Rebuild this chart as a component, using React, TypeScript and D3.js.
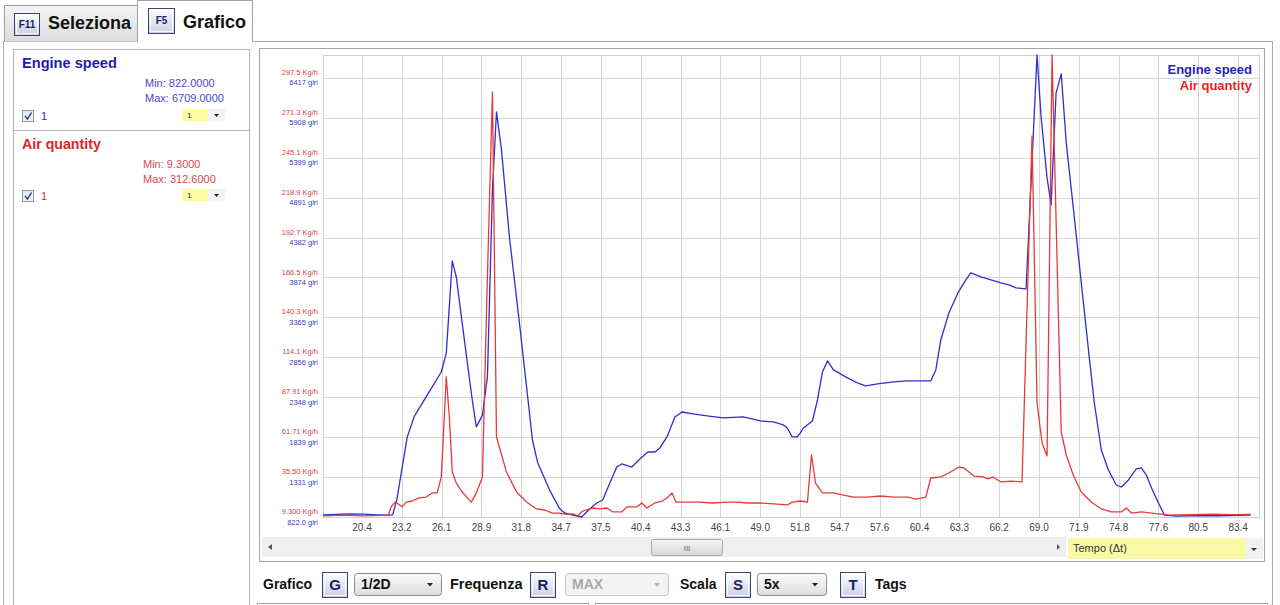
import React from 'react';
import * as d3 from 'd3';

// ---------- DATA ----------
const xTickLabels = ["20.4","23.2","26.1","28.9","31.8","34.7","37.5","40.4","43.3","46.1","49.0","51.8","54.7","57.6","60.4","63.3","66.2","69.0","71.9","74.8","77.6","80.5","83.4"];
const engineTickLabels = ["822.0 giri","1331 giri","1839 giri","2348 giri","2856 giri","3365 giri","3874 giri","4382 giri","4891 giri","5399 giri","5908 giri","6417 giri"];
const airTickLabels = ["9.300 Kg/h","35.50 Kg/h","61.71 Kg/h","87.91 Kg/h","114.1 Kg/h","140.3 Kg/h","166.5 Kg/h","192.7 Kg/h","218.9 Kg/h","245.1 Kg/h","271.3 Kg/h","297.5 Kg/h"];

const engineTime = [17.6,18.5,19.5,20.5,21.5,22.4,22.6,22.9,23.65,24.15,25.0,26.1,26.46,26.89,27.18,27.76,28.33,28.62,29.06,29.42,29.78,30.07,30.43,31.0,31.72,32.66,33.02,33.89,34.6,34.97,35.55,36.2,36.77,37.28,37.71,38.22,38.72,39.08,39.8,40.38,40.96,41.46,41.82,42.33,42.9,43.41,44.2,45.21,46.37,47.81,49.04,49.97,50.7,50.98,51.34,51.7,51.92,52.14,52.79,53.15,53.51,53.87,54.3,55.31,56.03,56.61,57.47,58.63,59.64,60.58,61.3,61.66,62.02,62.6,63.25,63.82,64.18,64.9,65.63,66.35,66.92,67.43,68.15,68.94,69.23,69.66,69.95,70.31,70.68,71.04,71.54,72.12,72.7,73.06,73.56,74.07,74.64,75.0,75.51,76.08,76.44,76.8,77.17,77.67,78.1,79.0,80.5,82.0,83.5,84.3];
const engineSpeed = [850,855,860,858,850,845,850,1040,1840,2100,2350,2670,2910,4085,3880,3080,2310,1970,2120,2610,4990,5985,5500,4390,3295,1800,1520,1165,930,873,847,822,924,1000,1039,1255,1459,1498,1459,1561,1650,1650,1702,1842,2097,2160,2135,2110,2084,2097,2046,2033,1995,1956,1842,1842,1893,1956,2046,2313,2670,2810,2696,2594,2530,2492,2517,2543,2556,2556,2556,2696,3078,3422,3677,3843,3932,3881,3843,3805,3779,3741,3728,6709,5921,5143,4799,6227,6469,5590,4774,3805,2849,2275,1676,1421,1230,1204,1294,1434,1447,1357,1192,1000,847,835,840,838,842,845];

const airTime = [17.6,19.0,20.5,22.3,22.49,22.78,22.92,23.29,23.57,24.01,24.51,25.02,25.45,25.81,26.1,26.46,26.68,26.89,27.18,27.61,28.26,28.62,29.06,29.34,29.78,30.07,30.79,31.51,32.23,32.95,33.53,34.1,34.61,35.11,35.55,35.91,36.27,36.99,37.49,38.0,38.43,39.08,39.44,40.16,40.52,40.88,41.46,41.97,42.33,42.69,42.98,43.77,44.71,45.57,46.66,47.38,48.1,49.04,50.27,50.98,51.34,51.92,52.43,52.72,53.01,53.51,54.3,55.02,55.74,56.75,57.69,58.63,59.64,60.22,60.94,61.3,62.02,62.6,63.32,63.69,64.41,65.06,65.41,65.77,66.35,67.07,67.86,68.58,68.94,69.3,69.66,70.02,70.68,71.04,71.54,72.12,72.84,73.56,74.28,75.0,75.36,75.72,76.44,77.17,78.5,80.0,81.5,83.0,84.3];
const airQuantity = [10.0,10.5,10.0,10.5,15.9,19.1,18.5,15.9,19.1,19.8,21.8,22.4,25.1,25.1,35.6,101.2,75.0,38.8,31.6,25.7,19.1,25.1,35.6,140.6,288.4,61.8,38.8,25.7,19.1,14.6,13.9,11.9,11.9,11.0,11.3,10.0,13.2,15.2,14.6,15.2,12.6,12.6,15.9,15.9,18.5,15.2,18.5,19.8,21.8,25.1,19.1,19.1,19.1,18.5,19.1,19.1,18.5,18.5,17.8,17.2,19.1,19.8,19.1,50.0,31.6,25.1,25.1,23.7,22.4,22.4,23.1,22.4,22.4,21.1,22.4,34.9,35.6,38.2,42.1,41.5,36.2,35.6,34.3,35.6,32.3,32.9,32.3,259.5,84.2,57.9,49.4,312.6,65.1,50.0,36.9,25.7,19.1,14.6,12.6,12.6,15.2,11.9,12.6,11.9,10.5,10.8,11.2,10.8,11.0];

const engineMin = 822, engineMax = 6709;
const airMin = 9.3, airMax = 312.6;
const xTickStart = 20.4, xTickStep = 2.8636;

// ---------- LAYOUT ----------
const X0 = 323, X1 = 1259, Y0 = 55, Y1 = 517;
const FONT = "'Liberation Sans', Arial, sans-serif";
const BLUE = '#2f2fcc';
const RED = '#e63a3a';

const x = d3.scaleLinear().domain([17.595, 84.9]).range([X0, X1]);
const yE = d3.scaleLinear().domain([engineMin, engineMax]).range([Y1, Y0]);
const yA = d3.scaleLinear().domain([airMin, airMax]).range([Y1, Y0]);

const xTicks = xTickLabels.map((_, i) => xTickStart + i * xTickStep);
const eStep = (6417 - engineMin) / 11;
const aStep = (297.5 - airMin) / 11;
const eTicks = engineTickLabels.map((_, i) => engineMin + i * eStep);
const aTicks = airTickLabels.map((_, i) => airMin + i * aStep);

const engineLine = d3.line<number>().x((_, i) => x(engineTime[i])).y(d => yE(d))(engineSpeed) || '';
const airLine = d3.line<number>().x((_, i) => x(airTime[i])).y(d => yA(d))(airQuantity) || '';

function KeyBox({ x0, y0, w, h, label, fs = 15 }: { x0: number; y0: number; w: number; h: number; label: string; fs?: number }) {
  return (
    <g>
      <rect x={x0 + 0.5} y={y0 + 0.5} width={w} height={h} fill="url(#keyGrad)" stroke="#3c4470" strokeWidth={1} />
      <rect x={x0 + 2.5} y={y0 + 2.5} width={w - 4} height={h - 4} fill="none" stroke="#ffffff" strokeWidth={1} opacity={0.8} />
      <text x={x0 + w / 2 + 0.5} y={y0 + h / 2 + fs * 0.36} textAnchor="middle" fontSize={fs} fontWeight="bold" fill="#1c2260" fontFamily={FONT}>{label}</text>
    </g>
  );
}

function Dropdown({ x0, y0, w, h, label, disabled = false }: { x0: number; y0: number; w: number; h: number; label: string; disabled?: boolean }) {
  return (
    <g>
      <rect x={x0 + 0.5} y={y0 + 0.5} width={w} height={h} rx={3} fill={disabled ? '#f3f3f3' : 'url(#ddGrad)'} stroke={disabled ? '#c4c4c4' : '#8c8c8c'} />
      <text x={x0 + 7} y={y0 + h / 2 + 5} fontSize={14} fontWeight="bold" fill={disabled ? '#a8a8a8' : '#111'} fontFamily={FONT}>{label}</text>
      <path d={`M${x0 + w - 14},${y0 + h / 2 - 1} l6,0 l-3,3.5 z`} fill={disabled ? '#b0b0b0' : '#222'} />
    </g>
  );
}

function Checkbox({ x0, y0 }: { x0: number; y0: number }) {
  return (
    <g>
      <rect x={x0 + 0.5} y={y0 + 0.5} width={11} height={11} fill="url(#cbGrad)" stroke="#8a98b0" />
      <path d={`M${x0 + 3},${y0 + 6} l2.5,3 l4,-6.5`} fill="none" stroke="#2a3a80" strokeWidth={1.4} />
    </g>
  );
}

function MiniSelect({ x0, y0 }: { x0: number; y0: number }) {
  return (
    <g>
      <rect x={x0} y={y0} width={26} height={12} fill="#fbfba2" />
      <text x={x0 + 5} y={y0 + 9} fontSize={8} fill="#333" fontFamily={FONT}>1</text>
      <rect x={x0 + 26} y={y0} width={17} height={12} fill="#f2f2f2" />
      <path d={`M${x0 + 32},${y0 + 5} l5,0 l-2.5,3 z`} fill="#222" />
    </g>
  );
}

export default function App() {
  return (
    <div style={{ position: 'absolute', left: 0, top: 0, width: 1280, height: 605, overflow: 'hidden', background: '#fff' }}>
      <svg width={1280} height={605} style={{ display: 'block' }} fontFamily={FONT}>
        <defs>
          <linearGradient id="keyGrad" x1="0" y1="0" x2="0" y2="1">
            <stop offset="0" stopColor="#ffffff" />
            <stop offset="1" stopColor="#c9cde6" />
          </linearGradient>
          <linearGradient id="tabGrad" x1="0" y1="0" x2="0" y2="1">
            <stop offset="0" stopColor="#f4f4f4" />
            <stop offset="1" stopColor="#dcdcdc" />
          </linearGradient>
          <linearGradient id="ddGrad" x1="0" y1="0" x2="0" y2="1">
            <stop offset="0" stopColor="#fafafa" />
            <stop offset="1" stopColor="#dedede" />
          </linearGradient>
          <linearGradient id="cbGrad" x1="0" y1="0" x2="1" y2="1">
            <stop offset="0" stopColor="#dfe6f2" />
            <stop offset="1" stopColor="#f6f8fb" />
          </linearGradient>
          <linearGradient id="thumbGrad" x1="0" y1="0" x2="0" y2="1">
            <stop offset="0" stopColor="#f6f6f6" />
            <stop offset="1" stopColor="#d6d6d6" />
          </linearGradient>
          <clipPath id="plotClip">
            <rect x={X0} y={Y0 - 2} width={X1 - X0} height={Y1 - Y0 + 4} />
          </clipPath>
        </defs>

        {/* outer content frame */}
        <rect x={3.5} y={41.5} width={1269} height={600} fill="#fff" stroke="#a9a9a9" />

        {/* tabs */}
        <path d="M4.5,41.5 L4.5,5.5 L137.5,5.5 L137.5,41.5" fill="url(#tabGrad)" stroke="#a0a0a0" />
        <path d="M137.5,42 L137.5,0.5 L252.5,0.5 L252.5,42" fill="#fff" stroke="#a0a0a0" />
        <line x1={138} y1={41.5} x2={252} y2={41.5} stroke="#fff" strokeWidth={1.5} />
        <KeyBox x0={14} y0={13} w={25} h={22} label="F11" fs={10} />
        <text x={48} y={29} fontSize={18} fontWeight="bold" fill="#111">Seleziona</text>
        <KeyBox x0={148} y0={8} w={26} h={25} label="F5" fs={10} />
        <text x={183} y={28} fontSize={18} fontWeight="bold" fill="#111">Grafico</text>

        {/* left panel */}
        <rect x={13.5} y={49.5} width={236} height={600} fill="#fff" stroke="#b4b4b4" />
        <line x1={14} y1={130.5} x2={249} y2={130.5} stroke="#b4b4b4" />
        <text x={22} y={68} fontSize={14.6} fontWeight="bold" fill="#1d1daa">Engine speed</text>
        <text x={145} y={87} fontSize={11} fill="#4a4ac6">Min: 822.0000</text>
        <text x={145} y={102} fontSize={11} fill="#4a4ac6">Max: 6709.0000</text>
        <Checkbox x0={22} y0={110} />
        <text x={41} y={120} fontSize={11} fill="#2a2aa8">1</text>
        <MiniSelect x0={182} y0={109} />

        <text x={22} y={149} fontSize={14.2} fontWeight="bold" fill="#e02424">Air quantity</text>
        <text x={143} y={168} fontSize={11} fill="#e04848">Min: 9.3000</text>
        <text x={143} y={183} fontSize={11} fill="#e04848">Max: 312.6000</text>
        <Checkbox x0={22} y0={190} />
        <text x={41} y={200} fontSize={11} fill="#c83030">1</text>
        <MiniSelect x0={182} y0={189} />

        {/* chart frame */}
        <rect x={259.5} y={48.5} width={1005} height={513} fill="#fff" stroke="#a4a4a4" />

        {/* grid */}
        <g>
          {xTicks.map((t, i) => (
            <line key={'vx' + i} x1={Math.round(x(t)) + 0.5} x2={Math.round(x(t)) + 0.5} y1={Y0} y2={Y1} stroke="#d7d7d7" />
          ))}
          {eTicks.map((t, i) => (
            <line key={'hy' + i} x1={X0} x2={X1} y1={Math.round(yE(t)) + 0.5} y2={Math.round(yE(t)) + 0.5} stroke="#d7d7d7" />
          ))}
          <rect x={X0 + 0.5} y={Y0 + 0.5} width={X1 - X0} height={Y1 - Y0} fill="none" stroke="#cfcfcf" />
        </g>

        {/* y labels */}
        <g fontSize={7.5}>
          {aTicks.map((t, i) => (
            <text key={'al' + i} x={318} y={yA(t) - 3} textAnchor="end" fill="#d64040">{airTickLabels[i]}</text>
          ))}
          {eTicks.map((t, i) => (
            <text key={'el' + i} x={318} y={yE(t) + 7.5} textAnchor="end" fill="#3a3ac0">{engineTickLabels[i]}</text>
          ))}
        </g>

        {/* x labels */}
        <g fontSize={10} fill="#444">
          {xTicks.map((t, i) => (
            <text key={'xl' + i} x={x(t)} y={531} textAnchor="middle">{xTickLabels[i]}</text>
          ))}
        </g>

        {/* series */}
        <g clipPath="url(#plotClip)">
          <path d={engineLine} fill="none" stroke={BLUE} strokeWidth={1.3} strokeLinejoin="round" />
          <path d={airLine} fill="none" stroke={RED} strokeWidth={1.3} strokeLinejoin="round" />
        </g>

        {/* legend */}
        <text x={1252} y={74} textAnchor="end" fontSize={13} fontWeight="bold" fill="#2424b4">Engine speed</text>
        <text x={1252} y={90} textAnchor="end" fontSize={13} fontWeight="bold" fill="#e02828">Air quantity</text>

        {/* scrollbar row */}
        <rect x={262} y={537} width={804} height={20} fill="#efefef" />
        <path d="M268,547 l4,-3 l0,6 z" fill="#555" />
        <rect x={651.5} y={539.5} width={71} height={16} rx={2} fill="url(#thumbGrad)" stroke="#a9a9a9" />
        <text x={687} y={551} textAnchor="middle" fontSize={8} fill="#666">III</text>
        <path d="M1060,547 l-3,-3 l0,6 z" fill="#555" />
        <rect x={1068} y={538} width={178} height={21} fill="#fafaa6" />
        <text x={1073} y={552} fontSize={11} fill="#333">Tempo (Δt)</text>
        <rect x={1246} y={538} width={17} height={21} fill="#f2f2f2" />
        <path d="M1251,548 l6,0 l-3,3 z" fill="#333" />

        {/* bottom controls */}
        <text x={263} y={589} fontSize={14} fontWeight="bold" fill="#111">Grafico</text>
        <KeyBox x0={322} y0={572} w={25} h={25} label="G" />
        <Dropdown x0={354} y0={573} w={87} h={22} label="1/2D" />
        <text x={450} y={589} fontSize={14.5} fontWeight="bold" fill="#111">Frequenza</text>
        <KeyBox x0={530} y0={572} w={25} h={25} label="R" />
        <Dropdown x0={565} y0={573} w={103} h={22} label="MAX" disabled />
        <text x={680} y={589} fontSize={14} fontWeight="bold" fill="#111">Scala</text>
        <KeyBox x0={725} y0={572} w={25} h={25} label="S" />
        <Dropdown x0={757} y0={573} w={69} h={22} label="5x" />
        <KeyBox x0={840} y0={572} w={25} h={25} label="T" />
        <text x={875} y={589} fontSize={14} fontWeight="bold" fill="#111">Tags</text>

        <rect x={257.5} y={603.5} width={331} height={20} fill="#fff" stroke="#a0a0a0" />
        <rect x={595.5} y={603.5} width={672} height={20} fill="#fff" stroke="#a0a0a0" />
      </svg>
    </div>
  );
}
